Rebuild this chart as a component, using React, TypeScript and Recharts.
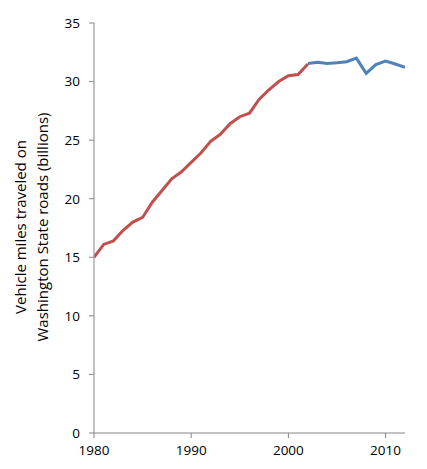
import React from 'react';
import { LineChart, Line, XAxis, YAxis, Label } from 'recharts';

const years = [
  1980, 1981, 1982, 1983, 1984, 1985, 1986, 1987, 1988, 1989, 1990,
  1991, 1992, 1993, 1994, 1995, 1996, 1997, 1998, 1999, 2000, 2001,
  2002, 2003, 2004, 2005, 2006, 2007, 2008, 2009, 2010, 2011, 2012,
];
// 1980-2002 (red segment)
const earlyValues = [
  15.0, 16.1, 16.4, 17.3, 18.0, 18.4, 19.7, 20.7, 21.7, 22.3, 23.1,
  23.9, 24.9, 25.5, 26.4, 27.0, 27.3, 28.5, 29.3, 30.0, 30.5, 30.6, 31.5,
];
// 2002-2012 (blue segment)
const lateStartYear = 2002;
const lateValues = [31.55, 31.65, 31.55, 31.6, 31.7, 32.0, 30.7, 31.45, 31.75, 31.5, 31.22];

const yTicks = [0, 5, 10, 15, 20, 25, 30, 35];
const xTicks = [1980, 1990, 2000, 2010];
const yLabelLines = ['Vehicle miles traveled on', 'Washington State roads (billions)'];

const data = years.map((year, i) => ({
  year,
  early: i < earlyValues.length ? earlyValues[i] : null,
  late: year >= lateStartYear ? lateValues[year - lateStartYear] : null,
}));

const FONT = '"Open Sans", sans-serif';
const AXIS = '#868686';

const YLabel = () => (
  <g>
    {yLabelLines.map((t, i) => (
      <text
        key={i}
        x={0}
        y={0}
        transform={`translate(${20 + i * 22}, 227) rotate(-90)`}
        textAnchor="middle"
        dominantBaseline="central"
        fontFamily={FONT}
        fontSize={15}
        fill="#000"
      >
        {t}
      </text>
    ))}
  </g>
);

export default function App() {
  return (
    <div style={{ position: 'absolute', left: 0, top: 0 }}>
      <LineChart
        width={427}
        height={469}
        data={data}
        margin={{ top: 23, right: 22, bottom: 0, left: 0 }}
      >
        <XAxis
          dataKey="year"
          type="number"
          domain={[1980, 2012]}
          ticks={xTicks}
          allowDataOverflow
          height={36}
          stroke={AXIS}
          tickSize={5}
          tickMargin={7}
          tick={{ fill: '#000', fontFamily: FONT, fontSize: 13.5 }}
        />
        <YAxis
          type="number"
          domain={[0, 35]}
          ticks={yTicks}
          width={94}
          stroke={AXIS}
          tickSize={5}
          tickMargin={9}
          tick={{ fill: '#000', fontFamily: FONT, fontSize: 13.5 }}
        >
          <Label content={<YLabel />} />
        </YAxis>
        <Line
          dataKey="early"
          stroke="#C0504D"
          strokeWidth={3}
          dot={false}
          type="linear"
          isAnimationActive={false}
          connectNulls={false}
        />
        <Line
          dataKey="late"
          stroke="#4F81BD"
          strokeWidth={3}
          dot={false}
          type="linear"
          isAnimationActive={false}
          connectNulls={false}
        />
      </LineChart>
    </div>
  );
}
